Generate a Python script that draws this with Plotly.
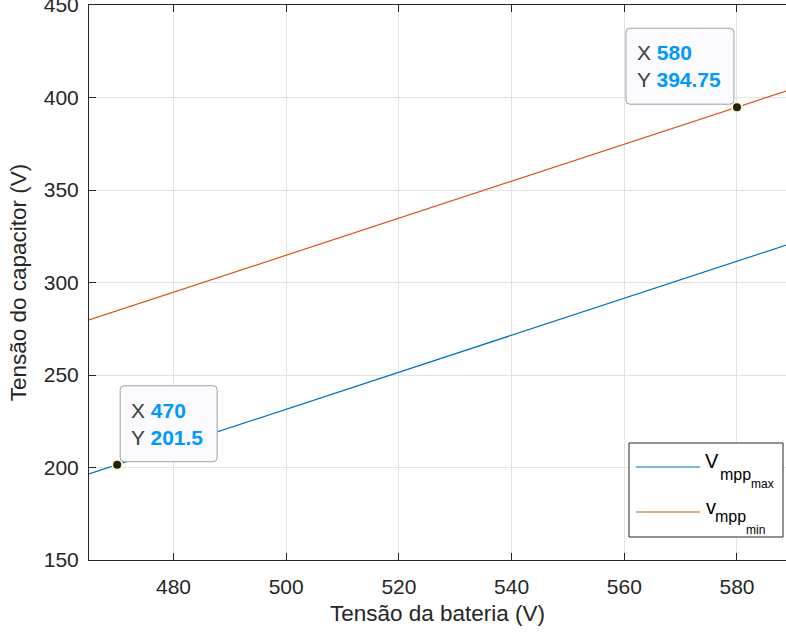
import plotly.graph_objects as go

# Battery voltage (V) sampled along each characteristic
bat_voltage = [465, 470, 580, 590]
# Capacitor voltage limits (V)
v_mpp_max = [196.5, 201.5, 311.5, 321.5]
v_mpp_min = [279.75, 284.75, 394.75, 404.75]

# Highlighted data tips
tip_x = [470, 580]
tip_y = [201.5, 394.75]

x_ticks = [480, 500, 520, 540, 560, 580]
y_ticks = [150, 200, 250, 300, 350, 400, 450]

FONT = "Liberation Sans, Arial, Helvetica, sans-serif"
AX = "#262626"
BLUE = "#0072BD"
ORANGE = "#D95319"

W, H = 786, 634
ML, MR, MT, MB = 89, 0, 5, 74
PW, PH = W - ML - MR, H - MT - MB


def px(x):
    return (x - ML) / PW


def py(y):
    return (H - MB - y) / PH


def rounded_box(x0, x1, y0, y1, r=4):
    return (f"M{x0 + r},{y0} L{x1 - r},{y0} Q{x1},{y0} {x1},{y0 + r} "
            f"L{x1},{y1 - r} Q{x1},{y1} {x1 - r},{y1} L{x0 + r},{y1} "
            f"Q{x0},{y1} {x0},{y1 - r} L{x0},{y0 + r} Q{x0},{y0} {x0 + r},{y0} Z")


fig = go.Figure()
fig.add_trace(go.Scatter(x=bat_voltage, y=v_mpp_max, mode="lines",
                         line=dict(color=BLUE, width=1.2), showlegend=False))
fig.add_trace(go.Scatter(x=bat_voltage, y=v_mpp_min, mode="lines",
                         line=dict(color=ORANGE, width=1.2), showlegend=False))
fig.add_trace(go.Scatter(x=tip_x, y=tip_y, mode="markers", showlegend=False,
                         marker=dict(size=10, color="#202020",
                                     line=dict(color="#fbf7c0", width=2))))


def tip_text(xv, yv):
    val = "<span style='color:#0099FF'><b>{}</b></span>"
    return "X " + val.format(xv) + "<br>Y " + val.format(yv)


# Data tip panels (rounded boxes anchored to the tip points, in pixels)
for (tx, ty), (bx0, bx1) in zip(zip(tip_x, tip_y), ((3, 100), (-111, -3))):
    fig.add_shape(type="path", xref="x", yref="y",
                  xsizemode="pixel", ysizemode="pixel", xanchor=tx, yanchor=ty,
                  path=rounded_box(bx0, bx1, 3, 79),
                  fillcolor="#FAFAFF", line=dict(color="#a0a0a0", width=1),
                  layer="above")

tip_style = dict(showarrow=False, align="left", valign="middle",
                 font=dict(family=FONT, size=21, color="#404040"),
                 bgcolor="rgba(0,0,0,0)", bordercolor="rgba(0,0,0,0)",
                 borderwidth=1, borderpad=10, height=54)
fig.add_annotation(x=tip_x[0], y=tip_y[0], text=tip_text(tip_x[0], tip_y[0]),
                   xanchor="left", yanchor="bottom", xshift=3, yshift=3,
                   width=75, **tip_style)
fig.add_annotation(x=tip_x[1], y=tip_y[1], text=tip_text(tip_x[1], tip_y[1]),
                   xanchor="right", yanchor="bottom", xshift=-3, yshift=3,
                   width=86, **tip_style)

# Legend: framed box with line samples and stacked subscripts
fig.add_shape(type="rect", xref="paper", yref="paper",
              x0=px(629), x1=px(783), y0=py(537), y1=py(443),
              line=dict(color=AX, width=1), fillcolor="white", layer="above")
for color, yl in ((BLUE, 467), (ORANGE, 512)):
    fig.add_shape(type="line", xref="paper", yref="paper",
                  x0=px(636), x1=px(700), y0=py(yl), y1=py(yl),
                  line=dict(color=color, width=1.2), layer="above")

legend_parts = [
    ("V", 704, 467, 20), ("mpp", 719, 480, 16), ("max", 750, 488, 12),
    ("v", 705, 513, 20), ("mpp", 714, 522, 16), ("min", 745, 534, 12),
]
for txt, lx, base, size in legend_parts:
    fig.add_annotation(xref="paper", yref="paper", x=px(lx),
                       y=py(base - 0.32 * size), text=txt, showarrow=False,
                       xanchor="left", yanchor="middle", borderpad=0,
                       font=dict(family=FONT, size=size, color="#000000"))

fig.update_layout(
    width=W, height=H,
    margin=dict(l=ML, r=MR, t=MT, b=MB, autoexpand=False),
    paper_bgcolor="white", plot_bgcolor="white",
    font=dict(family=FONT, size=21, color=AX),
    showlegend=False,
    xaxis=dict(range=[465, 588.7], tickvals=x_ticks, automargin=False,
               showline=True, linecolor=AX, linewidth=1, mirror="ticks",
               ticks="inside", ticklen=7, tickcolor=AX,
               showgrid=True, gridcolor="#e3e3e3", zeroline=False,
               tickfont=dict(size=21, color=AX), ticklabelstandoff=8,
               title=dict(text="Tensão da bateria (V)",
                          font=dict(size=22.5, color=AX), standoff=8)),
    yaxis=dict(range=[150, 450], tickvals=y_ticks, automargin=False,
               showline=True, linecolor=AX, linewidth=1,
               ticks="inside", ticklen=7, tickcolor=AX,
               showgrid=True, gridcolor="#e3e3e3", zeroline=False,
               tickfont=dict(size=21, color=AX), ticklabelstandoff=5,
               ticklabeloverflow="allow",
               title=dict(text="Tensão do capacitor (V)",
                          font=dict(size=22.5, color=AX), standoff=10)),
)

fig.write_html("out.html")
